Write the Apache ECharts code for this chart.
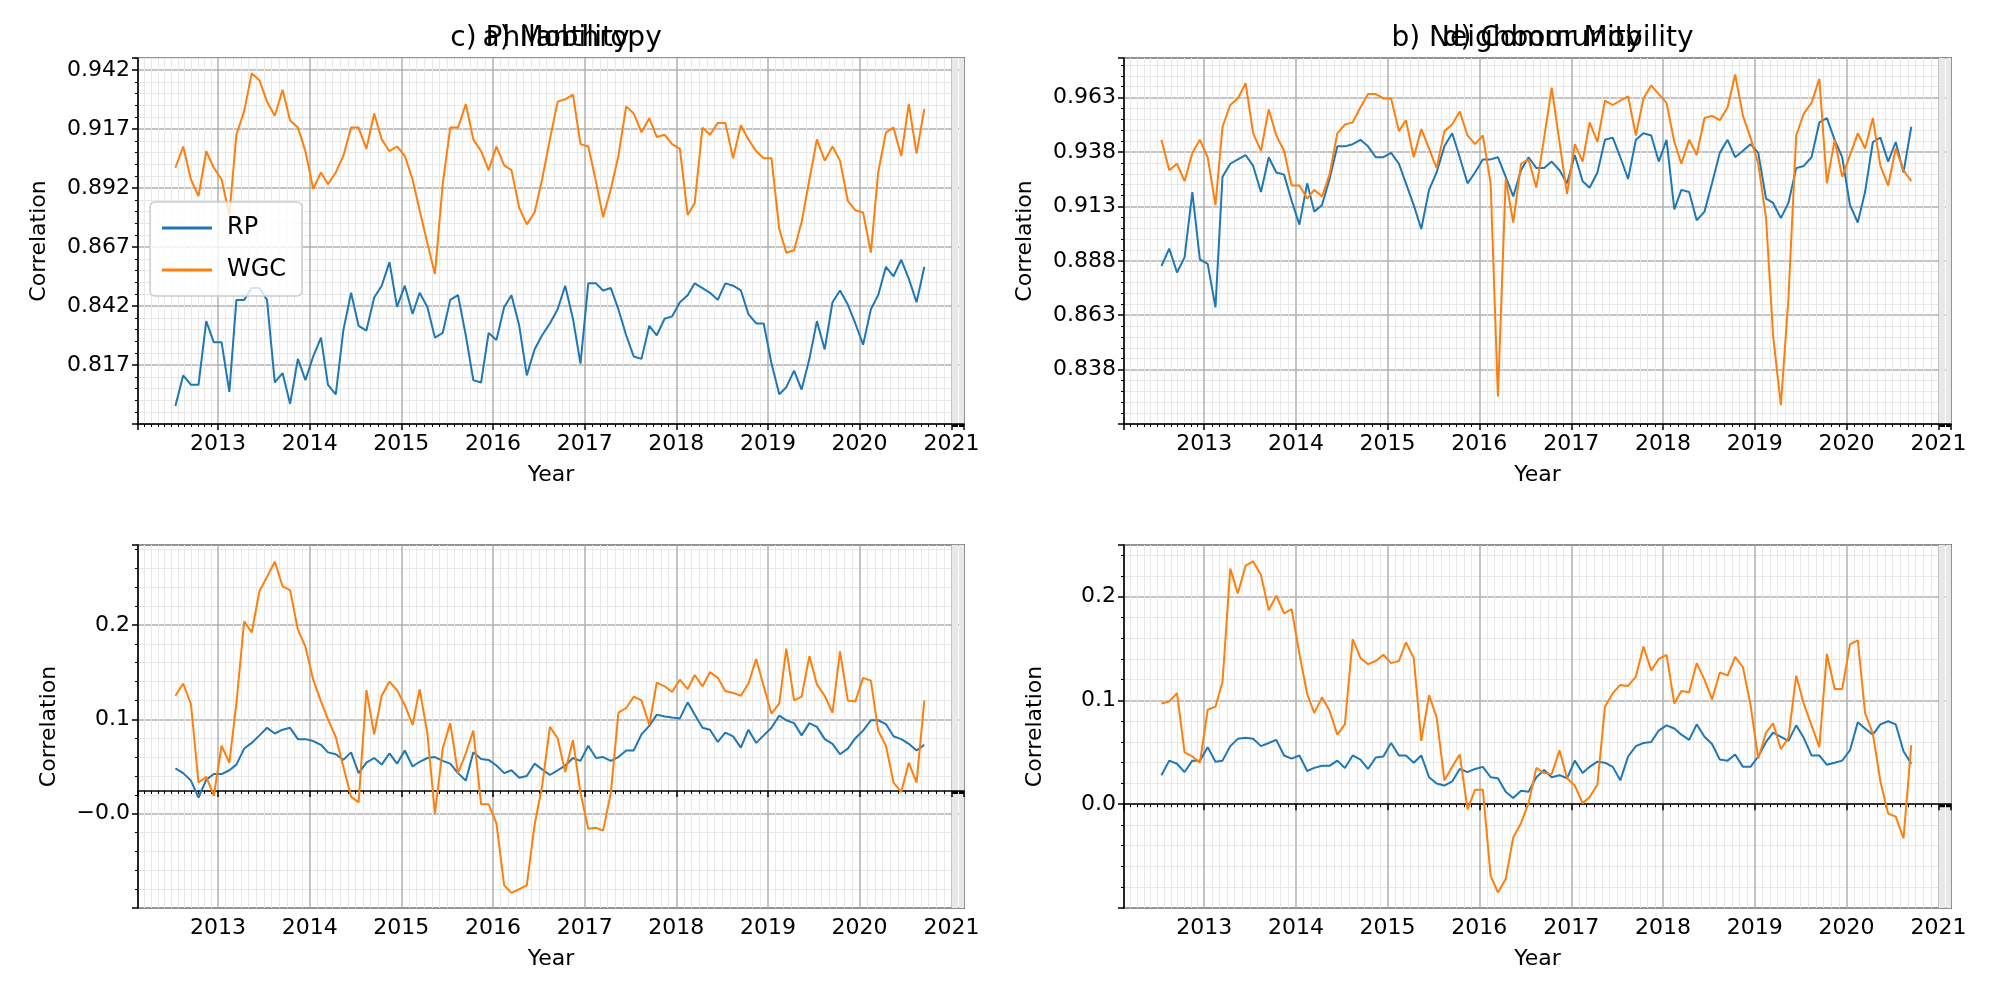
<!DOCTYPE html>
<html>
<head>
    <meta charset="utf-8" />
    <title>Correlation</title>
    <script src="https://cdn.jsdelivr.net/npm/echarts@6/dist/echarts.min.js"></script>
    <style>
        body { margin: 0; background: #fff; }
        #main { width: 2000px; height: 1000px; }
    </style>
</head>
<body>
<div id="main"></div>
<script type="text/javascript">
    // monthly series, first month July 2012, last September 2020
    var startYear = 2012, startMonth = 6, nPoints = 99;

    var mobRP = [0.800,0.813,0.809,0.809,0.836,0.827,0.827,0.806,0.845,0.845,
        0.850,0.850,0.845,0.810,0.814,0.801,0.820,0.811,0.821,0.829,
        0.809,0.805,0.832,0.848,0.834,0.832,0.846,0.851,0.861,0.842,
        0.851,0.839,0.848,0.842,0.829,0.831,0.845,0.847,0.830,0.811,
        0.810,0.831,0.828,0.842,0.847,0.834,0.813,0.824,0.830,0.835,
        0.841,0.851,0.837,0.818,0.852,0.852,0.849,0.850,0.841,0.830,
        0.821,0.820,0.834,0.830,0.837,0.838,0.844,0.847,0.852,0.850,
        0.848,0.845,0.852,0.851,0.849,0.839,0.835,0.835,0.818,0.805,
        0.808,0.815,0.807,0.820,0.836,0.824,0.844,0.849,0.843,0.835,
        0.826,0.841,0.847,0.859,0.855,0.862,0.854,0.844,0.859];
    var mobWGC = [0.901,0.910,0.896,0.889,0.908,0.901,0.896,0.881,0.915,0.925,
        0.941,0.938,0.929,0.923,0.934,0.921,0.918,0.908,0.892,0.899,
        0.894,0.899,0.906,0.918,0.918,0.909,0.924,0.913,0.908,0.910,
        0.906,0.896,0.883,0.869,0.856,0.894,0.918,0.918,0.928,0.913,
        0.908,0.900,0.910,0.902,0.900,0.884,0.877,0.882,0.896,0.913,
        0.929,0.930,0.932,0.911,0.910,0.895,0.880,0.892,0.906,0.927,
        0.924,0.916,0.922,0.914,0.915,0.911,0.909,0.881,0.886,0.918,
        0.915,0.920,0.920,0.905,0.919,0.913,0.908,0.905,0.905,0.875,
        0.865,0.866,0.878,0.896,0.913,0.904,0.910,0.904,0.887,0.883,
        0.882,0.865,0.899,0.916,0.918,0.906,0.928,0.907,0.926];

    var nbRP = [0.886,0.894,0.883,0.890,0.920,0.889,0.887,0.867,0.927,0.933,
        0.935,0.937,0.932,0.920,0.936,0.929,0.928,0.916,0.905,0.924,
        0.911,0.914,0.926,0.941,0.941,0.942,0.944,0.941,0.936,0.936,
        0.938,0.933,0.924,0.914,0.903,0.921,0.929,0.941,0.947,0.936,
        0.924,0.929,0.935,0.935,0.936,0.927,0.918,0.930,0.936,0.931,
        0.931,0.934,0.930,0.924,0.937,0.925,0.922,0.929,0.944,0.945,
        0.936,0.926,0.944,0.947,0.946,0.934,0.944,0.912,0.921,0.920,
        0.907,0.911,0.924,0.938,0.944,0.936,0.939,0.942,0.938,0.917,
        0.915,0.908,0.915,0.931,0.932,0.936,0.952,0.954,0.944,0.936,
        0.914,0.906,0.920,0.943,0.945,0.934,0.943,0.929,0.950];
    var nbWGC = [0.944,0.930,0.933,0.925,0.938,0.944,0.936,0.914,0.950,0.960,
        0.963,0.970,0.947,0.939,0.958,0.946,0.939,0.923,0.923,0.917,
        0.921,0.918,0.928,0.947,0.951,0.952,0.959,0.965,0.965,0.963,
        0.963,0.948,0.953,0.936,0.949,0.940,0.931,0.948,0.951,0.957,
        0.946,0.942,0.946,0.924,0.826,0.926,0.906,0.933,0.935,0.922,
        0.945,0.968,0.943,0.919,0.942,0.934,0.952,0.943,0.962,0.960,
        0.962,0.964,0.946,0.963,0.969,0.965,0.961,0.943,0.933,0.944,
        0.937,0.954,0.955,0.953,0.959,0.974,0.955,0.945,0.933,0.908,
        0.854,0.822,0.871,0.946,0.956,0.961,0.972,0.924,0.944,0.927,
        0.937,0.947,0.940,0.954,0.932,0.923,0.940,0.930,0.925];

    var phRP = [0.024,0.019,0.011,-0.007,0.012,0.018,0.018,0.022,0.028,0.045,
        0.051,0.059,0.067,0.061,0.065,0.067,0.055,0.055,0.053,0.049,
        0.041,0.039,0.033,0.041,0.019,0.030,0.035,0.028,0.040,0.029,
        0.043,0.026,0.031,0.035,0.036,0.032,0.029,0.019,0.011,0.041,
        0.034,0.033,0.027,0.019,0.022,0.014,0.016,0.029,0.023,0.017,
        0.022,0.027,0.035,0.032,0.048,0.035,0.036,0.032,0.036,0.043,
        0.043,0.060,0.069,0.081,0.079,0.078,0.077,0.094,0.081,0.067,
        0.065,0.052,0.062,0.058,0.046,0.065,0.051,0.059,0.067,0.080,
        0.075,0.072,0.059,0.072,0.068,0.055,0.050,0.039,0.045,0.056,
        0.064,0.075,0.075,0.071,0.058,0.055,0.050,0.043,0.049];
    var phWGC = [0.101,0.114,0.092,0.009,0.015,-0.005,0.048,0.030,0.093,0.180,
        0.168,0.212,0.227,0.243,0.217,0.213,0.171,0.153,0.118,0.095,
        0.076,0.057,0.026,-0.006,-0.012,0.107,0.060,0.101,0.116,0.107,
        0.091,0.070,0.108,0.061,-0.024,0.045,0.072,0.019,0.040,0.064,
        -0.014,-0.014,-0.034,-0.100,-0.108,-0.104,-0.100,-0.036,0.005,0.068,
        0.056,0.020,0.054,-0.002,-0.040,-0.039,-0.042,-0.002,0.083,0.088,
        0.100,0.096,0.070,0.115,0.111,0.105,0.118,0.108,0.123,0.111,
        0.126,0.120,0.106,0.104,0.101,0.114,0.140,0.111,0.082,0.093,
        0.151,0.096,0.100,0.143,0.113,0.101,0.083,0.148,0.096,0.095,
        0.120,0.117,0.064,0.048,0.009,-0.001,0.030,0.009,0.096];

    var cmRP = [0.028,0.042,0.039,0.031,0.042,0.042,0.055,0.041,0.042,0.056,
        0.063,0.064,0.063,0.056,0.059,0.062,0.047,0.044,0.047,0.032,
        0.035,0.037,0.037,0.042,0.035,0.047,0.043,0.034,0.045,0.046,
        0.059,0.047,0.047,0.040,0.047,0.026,0.020,0.018,0.022,0.034,
        0.031,0.034,0.036,0.026,0.025,0.012,0.006,0.013,0.012,0.026,
        0.033,0.026,0.028,0.025,0.042,0.030,0.036,0.041,0.040,0.036,
        0.023,0.046,0.056,0.059,0.060,0.071,0.076,0.073,0.067,0.062,
        0.077,0.065,0.058,0.043,0.042,0.048,0.036,0.036,0.046,0.060,
        0.069,0.065,0.061,0.076,0.064,0.047,0.047,0.038,0.040,0.042,
        0.052,0.079,0.073,0.067,0.077,0.080,0.077,0.051,0.039];
    var cmWGC = [0.097,0.099,0.107,0.050,0.046,0.040,0.091,0.094,0.118,0.227,
        0.203,0.230,0.234,0.221,0.187,0.201,0.184,0.188,0.145,0.106,
        0.088,0.103,0.090,0.067,0.077,0.159,0.141,0.135,0.138,0.144,
        0.136,0.138,0.156,0.141,0.061,0.105,0.084,0.023,0.036,0.048,
        -0.005,0.014,0.014,-0.069,-0.085,-0.072,-0.032,-0.018,0.001,0.035,
        0.030,0.029,0.052,0.025,0.018,0.001,0.007,0.019,0.094,0.107,
        0.115,0.114,0.123,0.152,0.129,0.140,0.144,0.097,0.109,0.108,
        0.136,0.120,0.101,0.127,0.124,0.142,0.132,0.096,0.044,0.069,
        0.078,0.053,0.064,0.124,0.097,0.076,0.055,0.145,0.111,0.111,
        0.154,0.158,0.088,0.068,0.022,-0.009,-0.012,-0.033,0.057];

    var titles = ['a) Mobility', 'b) Neighbour Mobility', 'c) Philanthropy', 'd) Community'];
    var yRanges = [[0.7924, 0.9475, 0.025, 3], [0.8134, 0.9816, 0.025, 3], [-0.124, 0.2608, 0.1, 1], [-0.1, 0.2498, 0.1, 1]];

    var dates = [];
    for (var i = 0; i < nPoints; i++) {
        dates.push(new Date(startYear, startMonth + i, 15).getTime());
    }
    function pairs(vals) {
        var out = [];
        for (var i = 0; i < vals.length; i++) out.push([dates[i], vals[i]]);
        return out;
    }

    var FONT = 'DejaVu Sans';
    var grids = [
        { left: 138, top: 58, width: 826, height: 366 },
        { left: 1124, top: 58, width: 827, height: 366 },
        { left: 138, top: 545, width: 826, height: 363 },
        { left: 1124, top: 545, width: 827, height: 363 }
    ];
    grids.forEach(function (g) {
        g.show = true; g.borderColor = '#000'; g.borderWidth = 1.5; g.backgroundColor = 'transparent';
    });

    var xAxes = [], yAxes = [], series = [], titleList = [];
    var seriesData = [[mobRP, mobWGC], [nbRP, nbWGC], [phRP, phWGC], [cmRP, cmWGC]];

    for (var p = 0; p < 4; p++) {
        xAxes.push({
            type: 'time', gridIndex: p,
            min: new Date(2012, 1, 17).getTime(),
            max: new Date(2021, 1, 20).getTime(),
            minInterval: 365 * 24 * 3600 * 1000,
            maxInterval: 366 * 24 * 3600 * 1000,
            name: 'Year', nameLocation: 'middle', nameGap: 40,
            nameTextStyle: { fontFamily: FONT, fontSize: 22, color: '#000' },
            axisLine: { show: true, lineStyle: { color: '#000', width: 1.5 } },
            axisTick: { show: true, length: 6, lineStyle: { color: '#000', width: 1.5 } },
            minorTick: { show: true, splitNumber: 12, length: 3, lineStyle: { color: '#000' } },
            axisLabel: {
                fontFamily: FONT, fontSize: 22, color: '#000', margin: 9,
                showMinLabel: false, showMaxLabel: false,
                formatter: function (v) { return String(new Date(v).getFullYear()); }
            },
            splitLine: { show: true, lineStyle: { color: '#b0b0b0', width: 1.5 } },
            minorSplitLine: { show: true, lineStyle: { color: '#e8e8e8', width: 1 } }
        });
        var r = yRanges[p];
        yAxes.push({
            type: 'value', gridIndex: p, min: r[0], max: r[1], interval: r[2],
            name: 'Correlation', nameLocation: 'middle', nameGap: p < 2 ? 88 : 78,
            nameTextStyle: { fontFamily: FONT, fontSize: 22, color: '#000' },
            axisLine: { show: true, lineStyle: { color: '#000', width: 1.5 } },
            axisTick: { show: true, length: 6, lineStyle: { color: '#000', width: 1.5 } },
            minorTick: { show: true, splitNumber: 5, length: 3, lineStyle: { color: '#000' } },
            axisLabel: {
                fontFamily: FONT, fontSize: 22, color: '#000', margin: 8,
                showMinLabel: false, showMaxLabel: false,
                formatter: (function (d) {
                    return function (v) {
                        var s = (Math.abs(v) < 1e-9 ? 0 : v).toFixed(d);
                        return s.replace('-', '\u2212');
                    };
                })(r[3])
            },
            splitLine: { show: true, lineStyle: { color: '#b0b0b0', width: 1.5 } },
            minorSplitLine: { show: true, lineStyle: { color: '#e8e8e8', width: 1 } }
        });
        titleList.push({
            text: titles[p], left: grids[p].left + grids[p].width / 2, top: 20, textAlign: 'center',
            textStyle: { fontFamily: FONT, fontSize: 28, fontWeight: 'normal', color: '#000' }
        });
        series.push({
            name: 'RP', type: 'line', xAxisIndex: p, yAxisIndex: p, data: pairs(seriesData[p][0]),
            showSymbol: false, lineStyle: { color: '#1f77b4', width: 2 }, itemStyle: { color: '#1f77b4' }, z: 3
        });
        series.push({
            name: 'WGC', type: 'line', xAxisIndex: p, yAxisIndex: p, data: pairs(seriesData[p][1]),
            showSymbol: false, lineStyle: { color: '#ff7f0e', width: 2 }, itemStyle: { color: '#ff7f0e' }, z: 3
        });
    }

    var myChart = echarts.init(document.getElementById('main'), null, { renderer: 'canvas' });
    myChart.setOption({
        animation: false,
        backgroundColor: '#fff',
        title: titleList,
        legend: {
            data: ['RP', 'WGC'], orient: 'vertical', left: 150, top: 202,
            itemWidth: 50, itemHeight: 3, itemGap: 18, icon: 'rect',
            padding: [14, 16, 14, 12],
            backgroundColor: 'rgba(255,255,255,0.8)', borderColor: '#cccccc', borderWidth: 1.5, borderRadius: 5,
            textStyle: { fontFamily: FONT, fontSize: 24, color: '#000', padding: [0, 0, 0, 10] }
        },
        grid: grids,
        xAxis: xAxes,
        yAxis: yAxes,
        series: series
    });
</script>
</body>
</html>
